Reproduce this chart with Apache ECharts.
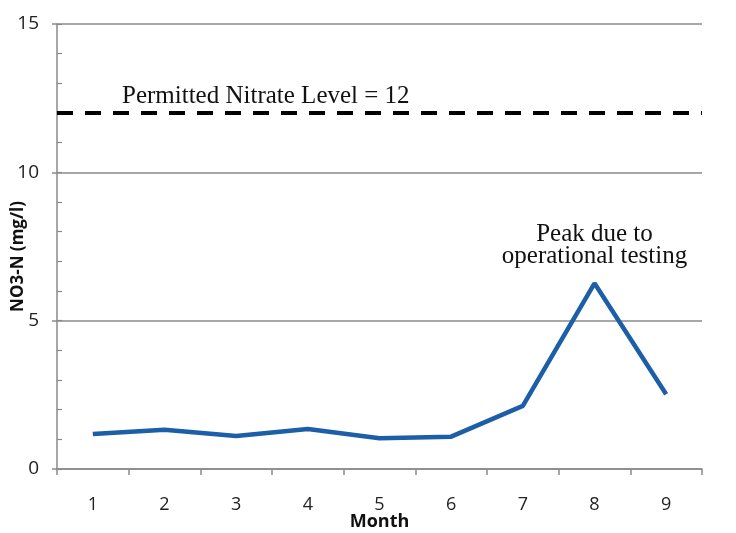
<!DOCTYPE html>
<html>
<head>
<meta charset="utf-8">
<script src="https://cdn.jsdelivr.net/npm/echarts@6/dist/echarts.min.js"></script>
<style>html,body{margin:0;padding:0;background:#fff}#c{width:736px;height:533px}</style>
</head>
<body>
<div id="c"></div>
<script>
var months = ['1','2','3','4','5','6','7','8','9'];
var nitrate = [1.18, 1.32, 1.11, 1.35, 1.04, 1.09, 2.13, 6.26, 2.52];
var permittedLevel = 12;
var yTicks = [0, 5, 10, 15];
var permittedText = 'Permitted Nitrate Level = 12';
var peakText = 'Peak due to\noperational testing';
var peakMonth = '8';

var chart = echarts.init(document.getElementById('c'));
var sans = '"Open Sans", sans-serif';
var serif = '"Liberation Serif", "Times New Roman", serif';
var gray = '#8a8a8a';
chart.setOption({
  animation: false,
  grid: {left: 57, right: 34, top: 24, bottom: 64, containLabel: false, outerBoundsMode: 'none'},
  xAxis: {
    type: 'category',
    data: months,
    boundaryGap: true,
    name: 'Month',
    nameLocation: 'middle',
    nameGap: 44,
    nameMoveOverlap: false,
    nameTextStyle: {fontFamily: sans, fontWeight: 'bold', fontSize: 18, color: '#111'},
    axisLine: {lineStyle: {color: gray, width: 1.5}},
    axisTick: {show: true, length: 6, lineStyle: {color: gray, width: 1.5}},
    axisLabel: {fontFamily: sans, fontSize: 18, color: '#222', margin: 27},
    splitLine: {show: false}
  },
  yAxis: [{
    type: 'value',
    min: yTicks[0],
    max: yTicks[yTicks.length - 1],
    interval: 5,
    name: 'NO3-N (mg/l)',
    nameLocation: 'middle',
    nameGap: 30,
    nameMoveOverlap: false,
    nameTextStyle: {fontFamily: sans, fontWeight: 'bold', fontSize: 17, color: '#111', padding: [0, 20, 0, 0]},
    axisLine: {show: true, lineStyle: {color: gray, width: 1.5}},
    axisTick: {show: true, length: 5, lineStyle: {color: gray, width: 1.5}},
    axisLabel: {fontFamily: sans, fontSize: 19, color: '#222', margin: 18},
    splitLine: {show: true, lineStyle: {color: gray, width: 1.5}}
  }, {
    type: 'value',
    position: 'left',
    min: yTicks[0],
    max: yTicks[yTicks.length - 1],
    interval: 1,
    axisLine: {show: false},
    axisTick: {show: true, inside: true, length: 5, lineStyle: {color: gray, width: 1.2}},
    axisLabel: {show: false},
    splitLine: {show: false}
  }],
  series: [{
    type: 'line',
    data: nitrate,
    showSymbol: false,
    symbol: 'none',
    lineStyle: {color: '#1c5ea8', width: 4.5},
    markLine: {
      silent: true,
      symbol: 'none',
      data: [{yAxis: permittedLevel}],
      lineStyle: {color: '#000', width: 4, type: [16, 12]},
      label: {
        show: true,
        position: 'insideStartTop',
        formatter: permittedText,
        fontFamily: serif,
        fontSize: 25,
        color: '#111',
        distance: [65, 4]
      }
    },
    markPoint: {
      silent: true,
      symbol: 'rect',
      symbolSize: 0,
      data: [{coord: [peakMonth, nitrate[months.indexOf(peakMonth)]]}],
      label: {
        show: true,
        position: 'top',
        distance: 16,
        formatter: peakText,
        fontFamily: serif,
        fontSize: 25,
        lineHeight: 22,
        color: '#111'
      }
    }
  }]
});
</script>
</body>
</html>
